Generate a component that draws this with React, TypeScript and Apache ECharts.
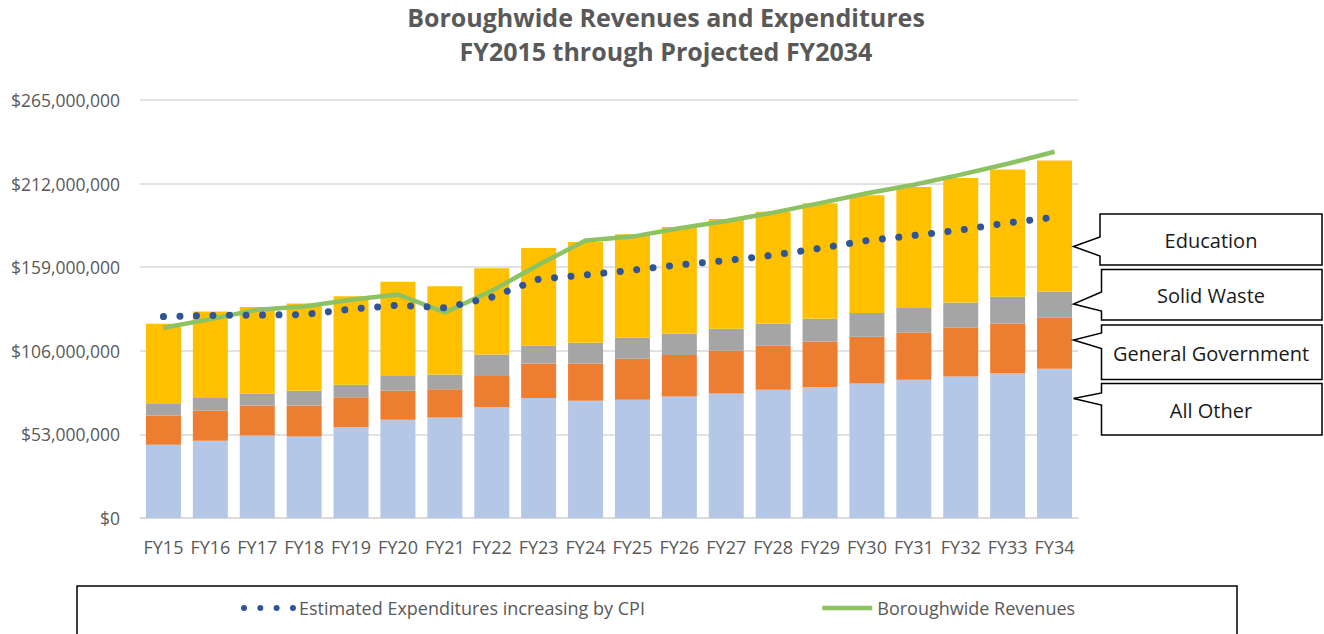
import React, { useEffect, useRef } from 'react';
import * as echarts from 'echarts';

const categories = ['FY15','FY16','FY17','FY18','FY19','FY20','FY21','FY22','FY23','FY24','FY25','FY26','FY27','FY28','FY29','FY30','FY31','FY32','FY33','FY34'];
// values in millions of dollars
const allOther = [46.4,49.0,52.3,51.7,57.6,62.3,63.7,70.3,76.0,74.3,74.9,77.0,78.9,81.3,83.0,85.3,87.6,89.7,92.0,94.6];
const generalGovernment = [18.6,19.0,19.1,19.7,19.0,18.3,18.0,19.7,21.9,23.6,26.0,26.3,27.1,27.9,28.9,29.6,29.8,30.9,31.3,32.3];
const solidWaste = [7.8,8.0,7.3,9.2,7.8,9.4,9.3,13.7,11.3,13.2,13.3,13.6,13.9,14.1,14.4,15.0,15.8,16.0,16.9,16.7];
const education = [50.3,54.9,55.0,55.4,56.2,59.7,56.0,54.7,62.0,63.9,65.7,67.6,69.7,70.9,73.3,74.7,76.7,79.0,80.7,83.0];
const revenues = [120.6,126.1,132.0,134.1,138.3,141.7,130.3,144.0,160.5,175.9,178.4,183.7,188.3,193.6,199.6,205.9,211.3,217.7,224.6,232.2];
const cpiExpenditures = [127.7,128.4,128.6,129.0,132.4,134.9,133.2,140.0,151.4,154.1,157.1,160.5,163.2,166.6,171.0,175.9,179.1,182.6,187.1,190.7];
const yTicks = { min: 0, max: 265, interval: 53 };

const M = 1000000;
const toDollars = (a: number[]) => a.map((v) => Math.round(v * M));
const FONT = '"Open Sans", "Noto Sans", sans-serif';
const GRAY = '#595959';
const DOT_STYLE = { color: '#2F5597', width: 7, type: [0.01, 16.5], cap: 'round' };
const GREEN_STYLE = { color: '#8CC262', width: 4.5 };

export default function App() {
  const ref = useRef<HTMLDivElement>(null);
  useEffect(() => {
    if (!ref.current) return;
    const chart = echarts.init(ref.current, null, { renderer: 'svg' });
    const callout = (top: number, bottom: number, left: number, upper: number, tipY: number, lower: number, label: string) => ([
      {
        type: 'polygon',
        shape: {
          points: [[left, top], [1322, top], [1322, bottom], [left, bottom], [left, lower], [1073.5, tipY], [left, upper]],
        },
        style: { fill: '#fff', stroke: '#000', lineWidth: 1.5 },
        z: 10,
      },
      {
        type: 'text',
        x: 1211,
        y: (top + bottom) / 2 + 1,
        style: { text: label, font: `20px ${FONT}`, fill: '#1a1a1a', textAlign: 'center', textVerticalAlign: 'middle' },
        z: 11,
      },
    ]);
    const legendBase = {
      top: 599,
      padding: 0,
      itemWidth: 50,
      itemHeight: 14,
      itemGap: 7,
      itemStyle: { opacity: 0 },
      textStyle: { fontSize: 18, color: GRAY, fontFamily: FONT },
    };
    chart.setOption({
      animation: false,
      textStyle: { fontFamily: FONT },
      title: {
        text: 'Boroughwide Revenues and Expenditures\nFY2015 through Projected FY2034',
        left: 666,
        textAlign: 'center',
        top: 0,
        padding: 0,
        textStyle: { fontSize: 25, fontWeight: 'bold', color: GRAY, lineHeight: 34, fontFamily: FONT },
      },
      grid: { left: 140, right: 246, top: 100, bottom: 116, containLabel: false },
      legend: [
        {
          ...legendBase,
          data: ['Estimated Expenditures increasing by CPI'],
          left: 241,
          lineStyle: { width: 6, type: [0.01, 16.3], cap: 'round' },
        },
        {
          ...legendBase,
          data: ['Boroughwide Revenues'],
          left: 820,
          lineStyle: { width: 4.5 },
        },
      ],
      xAxis: {
        type: 'category',
        data: categories,
        axisLine: { lineStyle: { color: '#D9D9D9', width: 1.5 } },
        axisTick: { show: false },
        axisLabel: { color: GRAY, fontSize: 18, margin: 20, interval: 0, fontFamily: FONT },
      },
      yAxis: {
        type: 'value',
        min: yTicks.min * M,
        max: yTicks.max * M,
        interval: yTicks.interval * M,
        axisLine: { show: false },
        axisTick: { show: false },
        splitLine: { lineStyle: { color: '#D9D9D9', width: 1.5 } },
        axisLabel: {
          color: GRAY,
          fontSize: 17.5,
          margin: 20,
          fontFamily: FONT,
          formatter: (v: number) => '$' + v.toLocaleString('en-US'),
        },
      },
      series: [
        { name: 'All Other', type: 'bar', stack: 'exp', data: toDollars(allOther), itemStyle: { color: '#B4C7E7' }, barWidth: 35 },
        { name: 'General Government', type: 'bar', stack: 'exp', data: toDollars(generalGovernment), itemStyle: { color: '#ED7D31' } },
        { name: 'Solid Waste', type: 'bar', stack: 'exp', data: toDollars(solidWaste), itemStyle: { color: '#A5A5A5' } },
        { name: 'Education', type: 'bar', stack: 'exp', data: toDollars(education), itemStyle: { color: '#FFC000' } },
        {
          name: 'Boroughwide Revenues',
          type: 'line',
          data: toDollars(revenues),
          symbol: 'none',
          lineStyle: GREEN_STYLE,
          itemStyle: { color: '#8CC262' },
          z: 5,
        },
        {
          name: 'Estimated Expenditures increasing by CPI',
          type: 'line',
          data: toDollars(cpiExpenditures),
          symbol: 'none',
          lineStyle: DOT_STYLE,
          itemStyle: { color: '#2F5597' },
          z: 6,
        },
      ],
      graphic: [
        {
          type: 'rect',
          shape: { x: 77, y: 586, width: 1160, height: 70 },
          style: { fill: 'none', stroke: '#000', lineWidth: 1.5 },
          silent: true,
        },
        ...callout(214, 265, 1100, 237, 246.5, 256, 'Education'),
        ...callout(269.5, 320, 1101.5, 292, 304, 311, 'Solid Waste'),
        ...callout(325, 379.5, 1101.5, 333, 340, 348.5, 'General Government'),
        ...callout(383.5, 435, 1101.5, 393, 398.5, 405, 'All Other'),
      ],
    });
    return () => chart.dispose();
  }, []);
  return <div ref={ref} style={{ position: 'absolute', left: 0, top: 0, width: 1324, height: 634 }} />;
}
